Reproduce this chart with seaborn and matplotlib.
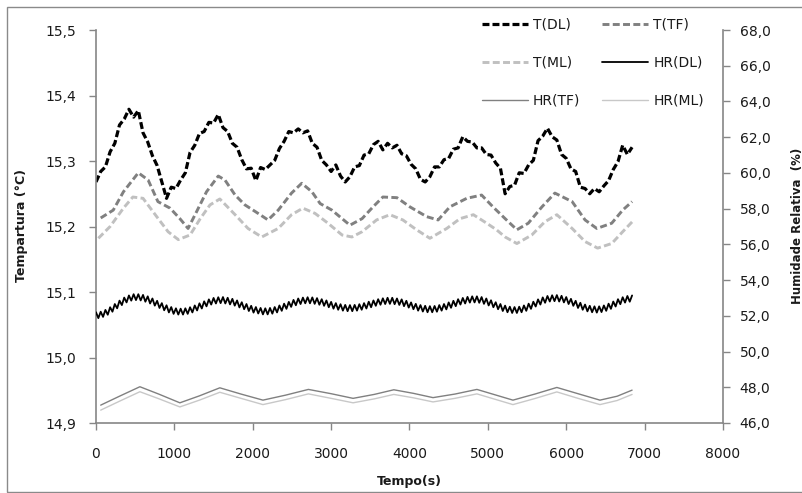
import numpy as np
import matplotlib
matplotlib.use("Agg")
import matplotlib.pyplot as plt
import seaborn as sns
from matplotlib.ticker import MultipleLocator, FuncFormatter
from matplotlib.patches import Rectangle

# ---------------- data ----------------
# T(DL), sampled every 60 s from 0 to 6840 s
t_dl = [15.268, 15.284, 15.291, 15.314, 15.327, 15.355, 15.364, 15.379, 15.367, 15.377,
        15.343, 15.329, 15.308, 15.293, 15.268, 15.243, 15.260, 15.258, 15.271, 15.282,
        15.313, 15.324, 15.342, 15.345, 15.359, 15.358, 15.371, 15.351, 15.345, 15.327,
        15.321, 15.302, 15.288, 15.289, 15.270, 15.290, 15.287, 15.294, 15.301, 15.319,
        15.330, 15.345, 15.343, 15.349, 15.343, 15.346, 15.327, 15.321, 15.301, 15.294,
        15.284, 15.294, 15.277, 15.268, 15.276, 15.291, 15.293, 15.309, 15.311, 15.325,
        15.330, 15.317, 15.327, 15.320, 15.324, 15.311, 15.308, 15.295, 15.288, 15.272,
        15.268, 15.276, 15.291, 15.291, 15.302, 15.304, 15.318, 15.320, 15.337, 15.330,
        15.329, 15.320, 15.320, 15.310, 15.309, 15.297, 15.289, 15.250, 15.261, 15.263,
        15.282, 15.281, 15.294, 15.301, 15.331, 15.338, 15.350, 15.337, 15.332, 15.310,
        15.304, 15.288, 15.284, 15.260, 15.258, 15.250, 15.258, 15.253, 15.262, 15.270,
        15.287, 15.299, 15.324, 15.310, 15.321]

# T(TF)
time_tf = [60, 220, 350, 540, 665, 790, 945, 1070, 1175, 1285,
           1410, 1560, 1645, 1775, 1900, 2030, 2195, 2325, 2495, 2625,
           2755, 2860, 3010, 3140, 3240, 3395, 3535, 3660, 3840, 4005,
           4220, 4365, 4515, 4730, 4920, 5065, 5220, 5370, 5515, 5690,
           5855, 6075, 6240, 6390, 6580, 6720, 6840]
t_tf = [15.213, 15.225, 15.253, 15.282, 15.271, 15.238, 15.228, 15.212, 15.197, 15.223,
        15.253, 15.277, 15.271, 15.248, 15.233, 15.223, 15.210, 15.225, 15.251, 15.266,
        15.253, 15.235, 15.225, 15.212, 15.202, 15.212, 15.230, 15.245, 15.244, 15.230,
        15.215, 15.210, 15.230, 15.243, 15.248, 15.230, 15.212, 15.195, 15.205, 15.230,
        15.251, 15.238, 15.210, 15.197, 15.205, 15.225, 15.238]

# T(ML)
time_ml = [30, 180, 350, 470, 600, 775, 920, 1050, 1200, 1330,
           1455, 1580, 1775, 1940, 2115, 2325, 2495, 2640, 2795, 2960,
           3140, 3265, 3395, 3580, 3750, 3915, 4090, 4260, 4475, 4645,
           4815, 4985, 5110, 5220, 5370, 5560, 5725, 5880, 6075, 6240,
           6400, 6580, 6720, 6840]
t_ml = [15.182, 15.200, 15.228, 15.245, 15.243, 15.215, 15.192, 15.180, 15.187, 15.212,
        15.233, 15.242, 15.218, 15.197, 15.184, 15.197, 15.218, 15.228, 15.220, 15.205,
        15.187, 15.184, 15.192, 15.210, 15.218, 15.210, 15.195, 15.182, 15.197, 15.212,
        15.218, 15.205, 15.195, 15.184, 15.174, 15.187, 15.207, 15.218, 15.197, 15.177,
        15.167, 15.174, 15.192, 15.207]

# HR(DL), sampled every 30 s from 0 to 6840 s
hr_dl = [52.20, 51.87, 52.23, 51.94, 52.33, 52.06, 52.48, 52.23, 52.66, 52.42, 52.85, 52.60,
         53.02, 52.75, 53.14, 52.85, 53.21, 52.88,
         53.21, 52.86, 53.17, 52.79, 53.09, 52.69, 52.97, 52.57, 52.84, 52.44, 52.71, 52.31,
         52.59, 52.19, 52.49, 52.11, 52.42, 52.07, 52.40,
         52.07, 52.42, 52.11, 52.48, 52.19, 52.58, 52.30, 52.70, 52.41, 52.81, 52.53, 52.92,
         52.63, 53.00, 52.69, 53.04, 52.71,
         53.05, 52.69, 53.01, 52.64, 52.95, 52.57, 52.86, 52.47, 52.76, 52.37, 52.66, 52.27,
         52.56, 52.18, 52.49, 52.13, 52.44, 52.08, 52.42,
         52.08, 52.44, 52.12, 52.49, 52.19, 52.58, 52.28, 52.68, 52.39, 52.78, 52.50, 52.89,
         52.59, 52.97, 52.66, 53.02, 52.70, 53.04,
         52.70, 53.03, 52.67, 52.99, 52.62, 52.93, 52.56, 52.86, 52.48, 52.78, 52.40, 52.71,
         52.34, 52.65, 52.29, 52.61, 52.26, 52.60,
         52.26, 52.61, 52.29, 52.65, 52.34, 52.71, 52.41, 52.79, 52.48, 52.86, 52.56, 52.93,
         52.62, 52.98, 52.66, 53.01, 52.67,
         53.01, 52.65, 52.97, 52.61, 52.92, 52.54, 52.84, 52.46, 52.75, 52.37, 52.67, 52.29,
         52.60, 52.24, 52.56, 52.20, 52.54,
         52.20, 52.55, 52.23, 52.60, 52.29, 52.66, 52.36, 52.75, 52.45, 52.84, 52.54, 52.93,
         52.63, 53.00, 52.69, 53.06, 52.74, 53.09, 52.75,
         53.09, 52.73, 53.05, 52.67, 52.97, 52.58, 52.87, 52.48, 52.76, 52.37, 52.66, 52.27,
         52.57, 52.20, 52.51, 52.16, 52.49,
         52.16, 52.51, 52.20, 52.58, 52.28, 52.68, 52.39, 52.79, 52.52, 52.92, 52.63, 53.03,
         52.73, 53.11, 52.80, 53.15, 52.82,
         53.16, 52.80, 53.12, 52.75, 53.05, 52.66, 52.95, 52.56, 52.84, 52.44, 52.73, 52.34,
         52.63, 52.25, 52.56, 52.20, 52.53, 52.18,
         52.53, 52.21, 52.58, 52.28, 52.68, 52.39, 52.80, 52.52, 52.93, 52.65, 53.04, 52.74,
         53.11, 52.79, 53.14]

# HR(TF) and HR(ML)
time_hr = [60, 300, 560, 800, 1070, 1320, 1580, 1850, 2130, 2420,
           2710, 3000, 3280, 3550, 3800, 4050, 4300, 4580, 4860, 5090,
           5320, 5600, 5880, 6150, 6430, 6650, 6840]
hr_tf = [47.00, 47.50, 48.03, 47.62, 47.13, 47.52, 47.97, 47.62, 47.28, 47.56,
         47.88, 47.64, 47.38, 47.60, 47.86, 47.66, 47.42, 47.62, 47.88, 47.58,
         47.28, 47.62, 47.99, 47.64, 47.28, 47.50, 47.84]
hr_ml = [46.72, 47.22, 47.75, 47.36, 46.90, 47.28, 47.72, 47.38, 47.03, 47.31,
         47.63, 47.38, 47.13, 47.35, 47.60, 47.41, 47.18, 47.38, 47.63, 47.33,
         47.03, 47.37, 47.74, 47.38, 47.03, 47.26, 47.60]

time_dl = np.linspace(0, 6840, len(t_dl))
time_hr_dl = np.linspace(0, 6840, len(hr_dl))

labels = ["T(DL)", "T(TF)", "T(ML)", "HR(DL)", "HR(TF)", "HR(ML)"]

# ---------------- styling ----------------
sns.set_style("white")
plt.rcParams['font.family'] = ['DejaVu Sans']
plt.rcParams['lines.scale_dashes'] = False

GRAY = '#868686'
TXT = '#1a1a1a'

fig = plt.figure(figsize=(8.03, 4.93), dpi=100)
ax = fig.add_axes([96 / 803, 1 - 423 / 493, (723 - 96) / 803, (423 - 30) / 493])
ax.set_facecolor('none')
ax2 = ax.twinx()


def draw(axis, x, y, color, lw, label, dashes=None):
    sns.lineplot(x=x, y=y, ax=axis, color=color, linewidth=lw,
                 estimator=None, sort=False, legend=False)
    line = axis.lines[-1]
    if dashes is not None:
        line.set_dashes(dashes)
    line.set_label(label)
    return line


h_tdl = draw(ax, time_dl, t_dl, '#000000', 2.3, labels[0], (5, 2.2))
h_ttf = draw(ax, time_tf, t_tf, '#808080', 2.1, labels[1], (5, 2.4))
h_tml = draw(ax, time_ml, t_ml, '#c0c0c0', 2.1, labels[2], (5, 2.4))
h_hdl = draw(ax2, time_hr_dl, hr_dl, '#000000', 1.3, labels[3])
h_htf = draw(ax2, time_hr, hr_tf, '#808080', 1.0, labels[4])
h_hml = draw(ax2, time_hr, hr_ml, '#c8c8c8', 1.0, labels[5])

# axes limits / ticks
ax.set_xlim(0, 8000)
ax.set_ylim(14.9, 15.5)
ax2.set_ylim(46, 68)
ax.xaxis.set_major_locator(MultipleLocator(1000))
ax.yaxis.set_major_locator(MultipleLocator(0.1))
ax2.yaxis.set_major_locator(MultipleLocator(2))
comma = FuncFormatter(lambda v, p: f"{v:.1f}".replace('.', ','))
ax.yaxis.set_major_formatter(comma)
ax2.yaxis.set_major_formatter(comma)
ax.xaxis.set_major_formatter(FuncFormatter(lambda v, p: f"{v:.0f}"))
ax.set_xlabel("")
ax.set_ylabel("")
ax2.set_ylabel("")

for s in ['top', 'right']:
    ax.spines[s].set_visible(False)
for s in ['top', 'left', 'bottom']:
    ax2.spines[s].set_visible(False)
for sp in [ax.spines['left'], ax.spines['bottom'], ax2.spines['right']]:
    sp.set_visible(True)
    sp.set_color(GRAY)
    sp.set_linewidth(1.2)

ax.tick_params(axis='y', left=True, direction='out', length=5, width=1, color=GRAY,
               labelsize=10, labelcolor=TXT, pad=9)
ax.tick_params(axis='x', bottom=True, direction='out', length=5, width=1, color=GRAY,
               labelsize=10, labelcolor=TXT, pad=12)
ax2.tick_params(axis='y', right=True, direction='out', length=5, width=1, color=GRAY,
                labelsize=10, labelcolor=TXT, pad=7)

# axis titles
fig.text(22 / 803, 1 - 226 / 493, "Tempartura (°C)", rotation=90, ha='center', va='center',
         fontsize=9, fontweight='bold', color=TXT)
fig.text(409 / 803, 1 - 482 / 493, "Tempo(s)", ha='center', va='center',
         fontsize=9, fontweight='bold', color=TXT)
fig.text(798 / 803, 1 - 226 / 493, "Humidade Relativa  (%)", rotation=90, ha='center',
         va='center', fontsize=8.5, fontweight='bold', color=TXT)

# legend (row-major order displayed -> column-major handles)
handles = [h_tdl, h_tml, h_htf, h_ttf, h_hdl, h_hml]
leg = fig.legend(handles, [h.get_label() for h in handles], loc='upper left',
                 bbox_to_anchor=(482 / 803, 1 - 18 / 493), ncol=2, frameon=False,
                 fontsize=10, handlelength=3.3, handletextpad=0.36, columnspacing=1.6,
                 labelspacing=1.72, borderpad=0, borderaxespad=0)
for t in leg.get_texts():
    t.set_color(TXT)

# chart-area border
fig.patches.append(Rectangle((7 / 803, 1 - 492 / 493), 1.0, (492 - 7) / 493,
                             transform=fig.transFigure, fill=False, ec='#8a8a8a', lw=1))

fig.savefig('out.png', dpi=100)
